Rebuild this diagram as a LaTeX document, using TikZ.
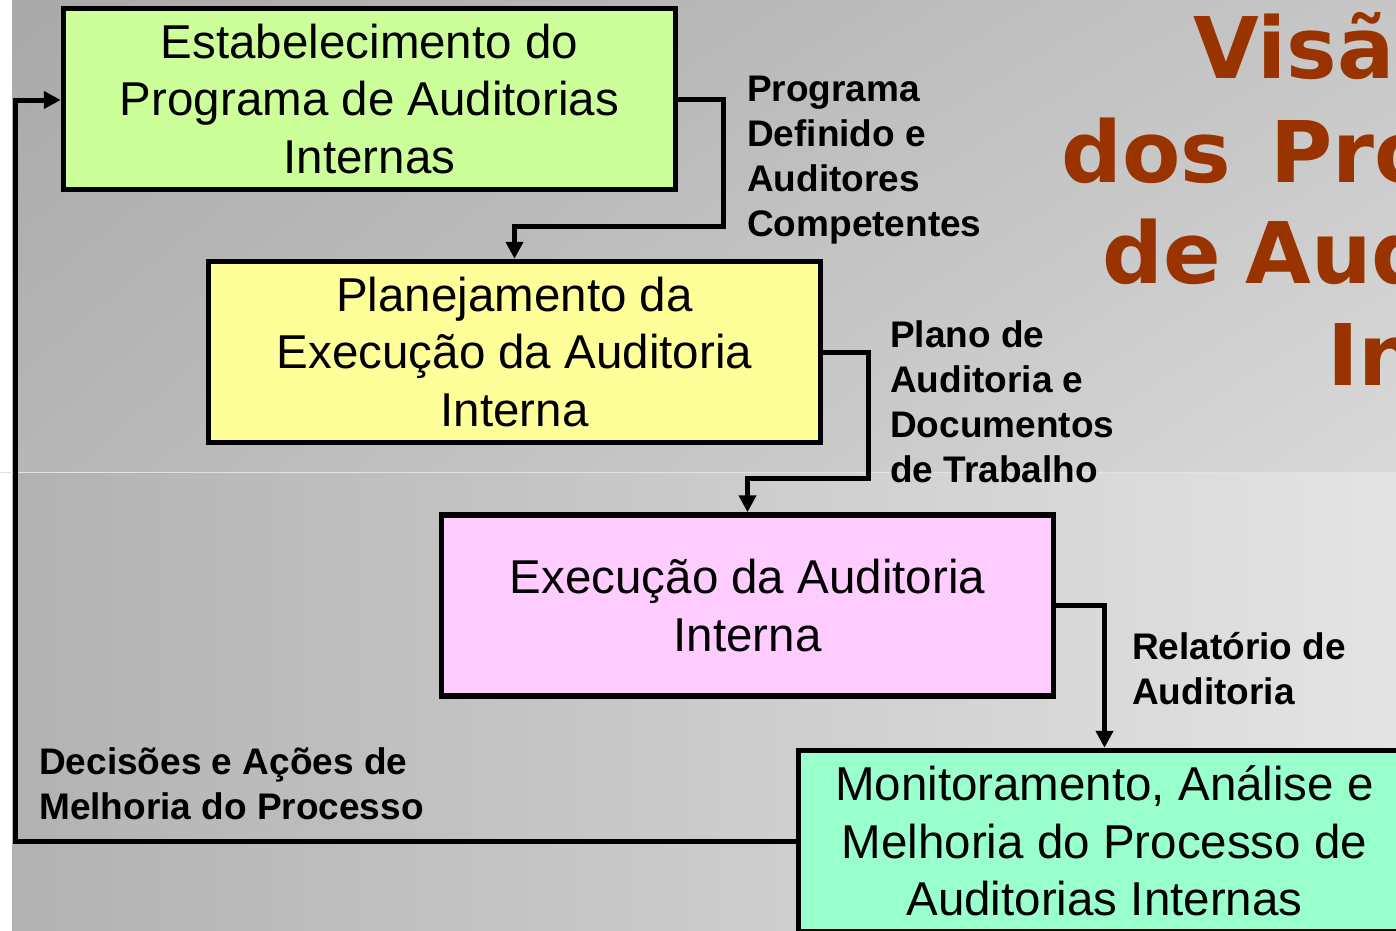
\documentclass[tikz,border=0pt]{standalone}
\usepackage{fontspec}
\setmainfont{Liberation Sans}
\newfontfamily\titlefont{DejaVu Sans}
\usetikzlibrary{arrows.meta,shadings}
\definecolor{titlered}{HTML}{993300}
\definecolor{fillA}{HTML}{CCFF99}
\definecolor{fillB}{HTML}{FFFF99}
\definecolor{fillC}{HTML}{FFCCFF}
\definecolor{fillD}{HTML}{99FFCC}
\definecolor{bgUL}{HTML}{A9A9A9}
\definecolor{bgUR}{HTML}{C6C6C6}
\definecolor{bgLL}{HTML}{B6B6B6}
\definecolor{bgLR}{HTML}{D9D9D9}
\definecolor{bgBL}{HTML}{B2B2B2}
\definecolor{bgBM}{HTML}{E0E0E0}
\definecolor{bgBR}{HTML}{E4E4E4}
\definecolor{seam}{HTML}{E2E2E2}
\begin{document}
\begin{tikzpicture}[x=1pt,y=-1pt,
  box/.style={draw=black, line width=5.5pt, minimum width=612pt, minimum height=181pt,
    inner sep=0pt, align=center, font=\fontsize{47.5}{57.5}\selectfont},
  conn/.style={draw=black, line width=5pt, line join=miter,
    -{Triangle[length=17pt,width=17pt]}},
  lbl/.style={anchor=base west, inner sep=0pt, align=left,
    font=\bfseries\fontsize{37}{45}\selectfont},
  ttl/.style={anchor=base west, inner sep=0pt, text=titlered,
    font=\titlefont\bfseries\fontsize{85}{100}\selectfont}]
\useasboundingbox (0,0) rectangle (1396,930);
\clip (0,0) rectangle (1396,930);
% background
\fill[white] (0,0) rectangle (12,930);
\shade[upper left=bgUL, upper right=bgUR, lower left=bgLL, lower right=bgLR]
  (12,0) rectangle (1396,472.5);
\shade[left color=bgBL, middle color=bgBM, right color=bgBR]
  (12,472.5) rectangle (1396,930);
\draw[seam, line width=1.3pt] (0,472.5) -- (1396,472.5);
% title (cut at the right edge)
\node[ttl] (t1) at (1193,78) {Visã};
\node[ttl] (t2a) at (1061,182) {dos};
\node[ttl] (t2b) at (1270,182) {Pro};
\node[ttl] (t3a) at (1102,283) {de};
\node[ttl] (t3b) at (1245,283) {Aud};
\node[ttl] (t4) at (1327,385) {In};
% boxes
\node[box, fill=fillA] (b1) at (369.5,99) {Estabelecimento do\\Programa de Auditorias\\Internas};
\node[box, fill=fillB] (b2) at (514.5,352) {Planejamento da\\Execução da Auditoria\\Interna};
\node[box, fill=fillC] (b3) at (747.5,605.5) {Execução da Auditoria\\Interna};
\node[box, fill=fillD] (b4) at (1104.5,841) {Monitoramento, Análise e\\Melhoria do Processo de\\Auditorias Internas};
% connectors
\coordinate (c1) at (723,226);
\coordinate (c2) at (868,478);
\coordinate (c4) at (15,100);
\draw[conn] (b1.east) -| (c1) -| (b2.north);
\draw[conn] (b2.east) -| (c2) -| (b3.north);
\draw[conn] (b3.east) -| (b4.north);
\draw[conn] (b4.west) -| (c4) -- (b1.west |- c4);
% labels (anchored at the baseline of their last line)
\node[lbl] (l1) at (747,236) {Programa\\Definido e\\Auditores\\Competentes};
\node[lbl] (l2) at (890,482) {Plano de\\Auditoria e\\Documentos\\de Trabalho};
\node[lbl] (l3) at (1132,704) {Relatório de\\Auditoria};
\node[lbl] (l4) at (39,819) {Decisões e Ações de\\Melhoria do Processo};
\end{tikzpicture}
\end{document}
